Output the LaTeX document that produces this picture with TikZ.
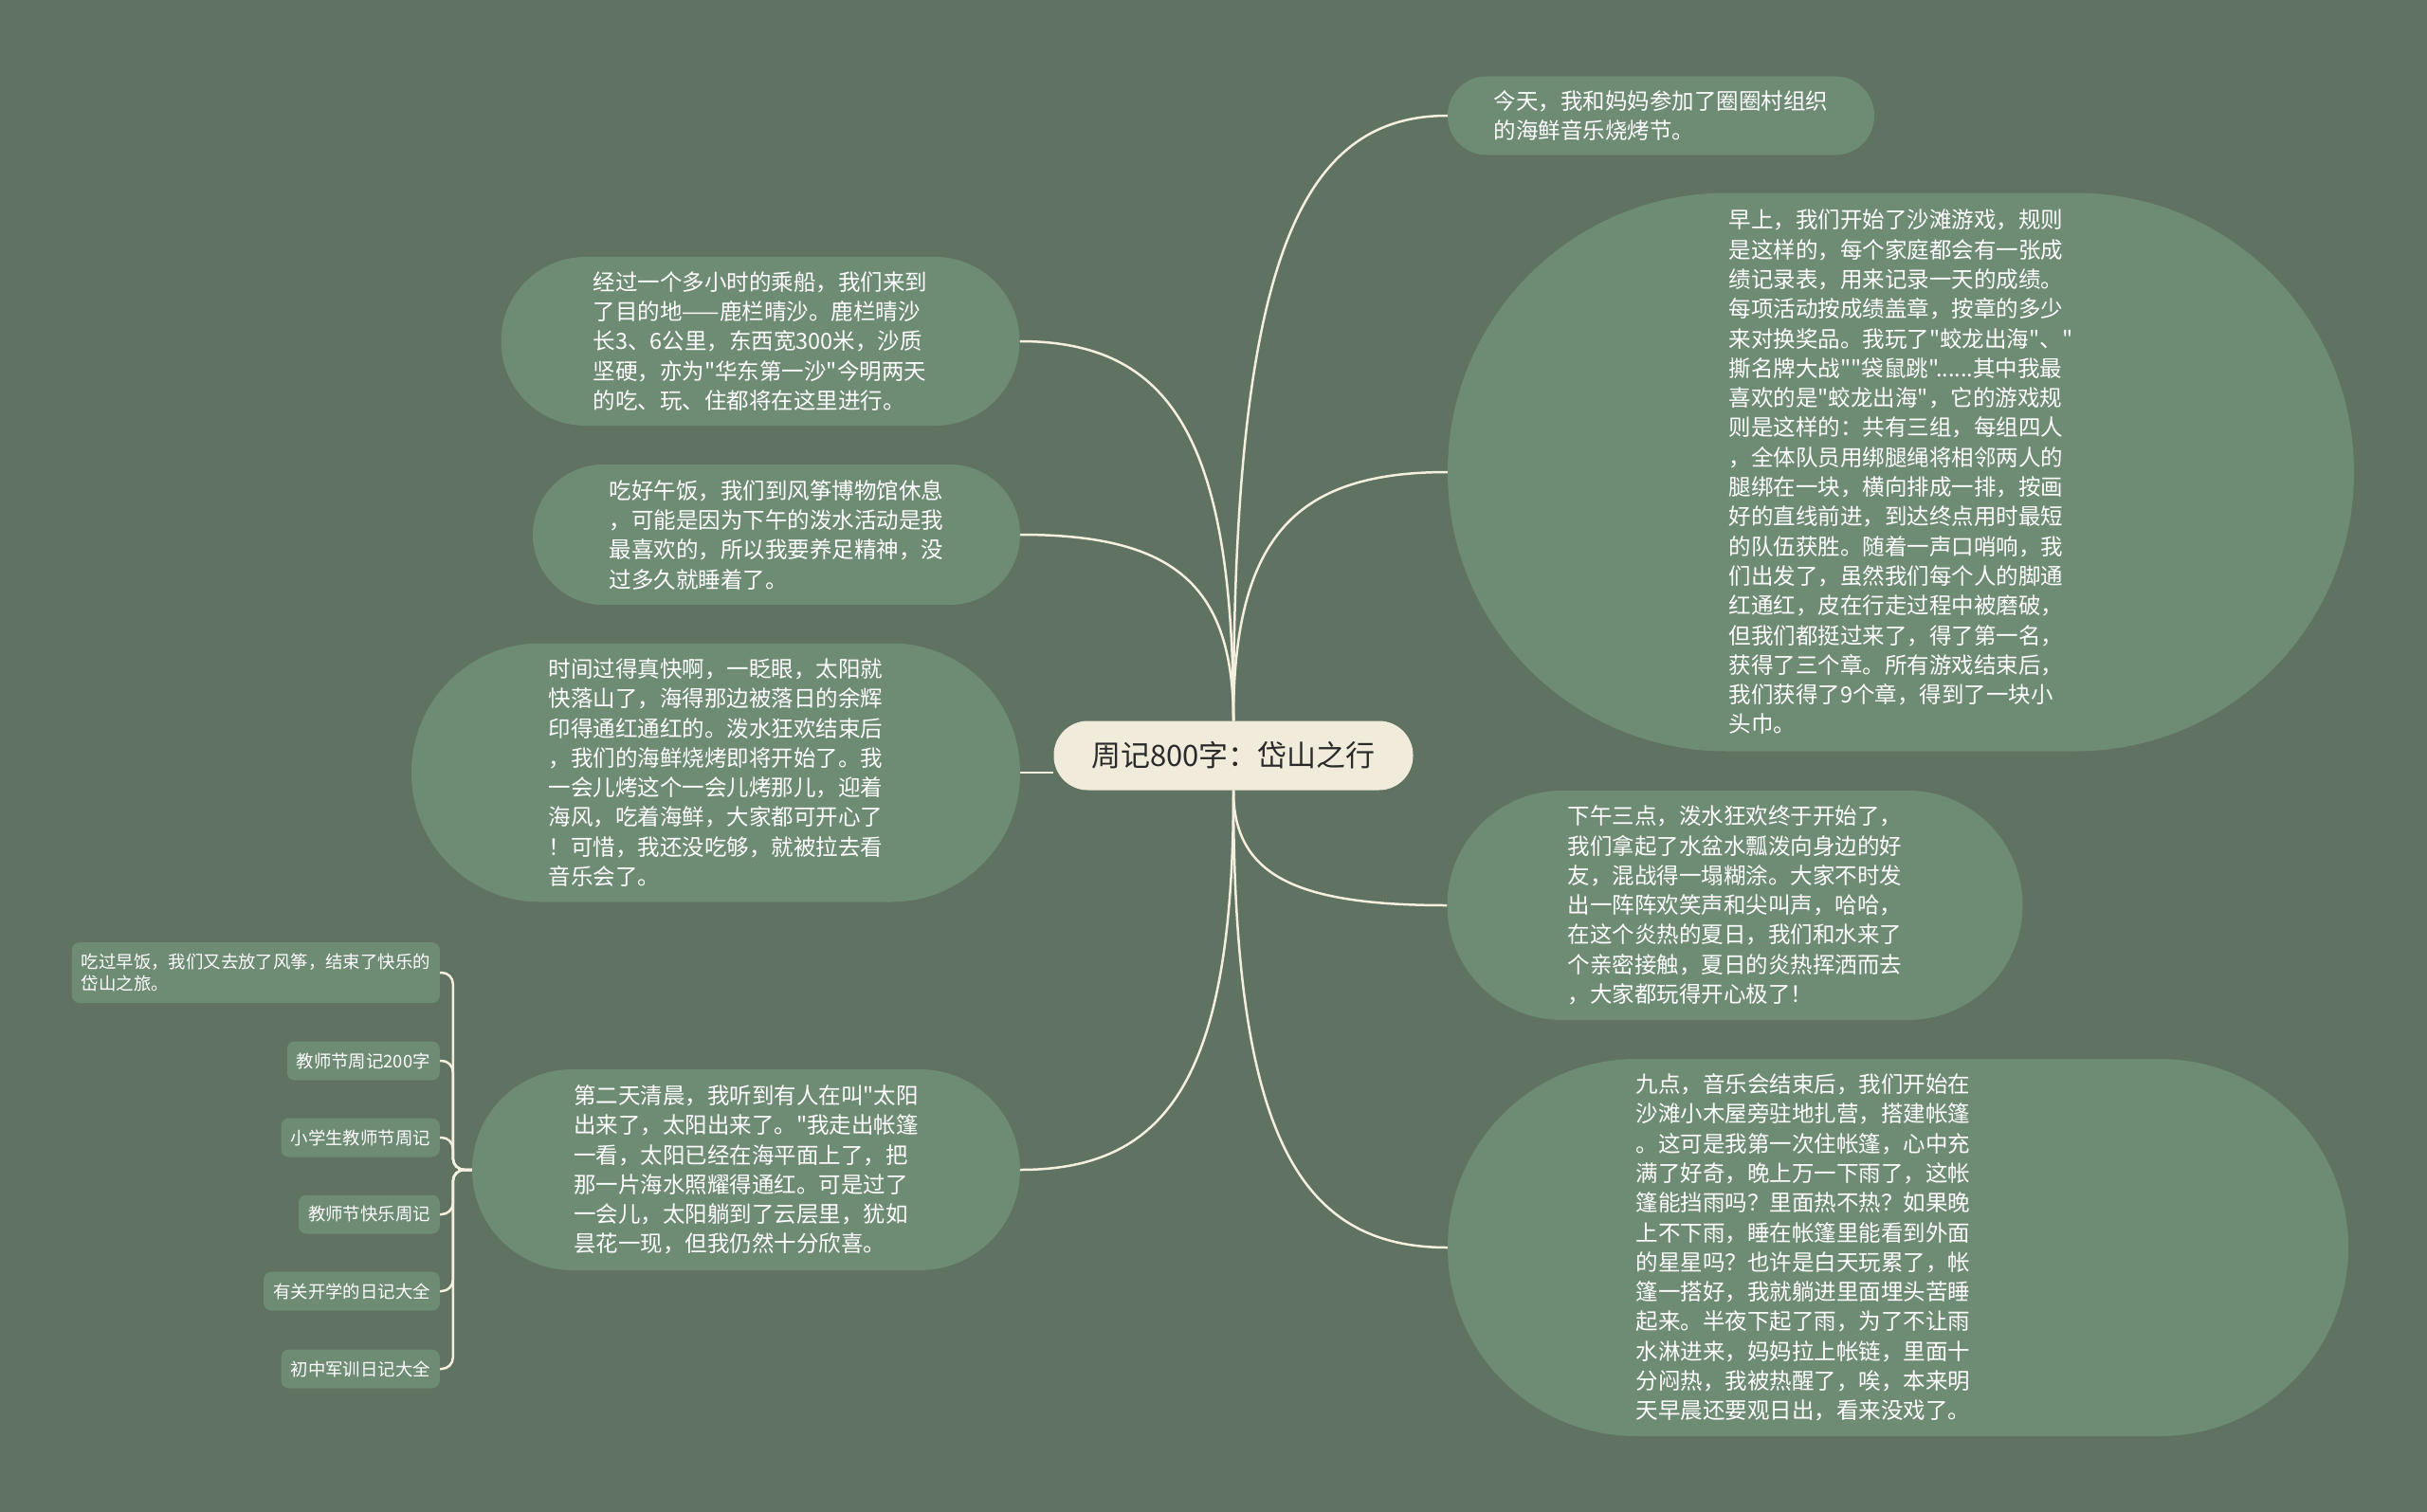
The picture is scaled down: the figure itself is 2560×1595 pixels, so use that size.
\documentclass[tikz,border=0pt]{standalone}
\usepackage{fontspec}
\newfontfamily\cjk{Noto Sans CJK SC}
\usepackage{tikz}
\usetikzlibrary{calc}
\usetikzlibrary{backgrounds}

\definecolor{bggreen}{HTML}{607262}
\definecolor{nodegreen}{HTML}{6E8B74}
\definecolor{topiccream}{HTML}{F0EBDA}
\definecolor{linkcream}{HTML}{F4EFDE}
\definecolor{topicink}{HTML}{2A2A2A}

\begin{document}
\begin{tikzpicture}[x=1pt,y=-1pt,
    txt/.style={text=white,align=left,inner sep=0pt,
      font=\cjk\fontsize{23.5}{31.3}\selectfont},
    bubble/.style={txt,fill=nodegreen},
    leaf/.style={fill=nodegreen,text=white,align=left,anchor=east,
      inner xsep=10pt,inner ysep=0pt,minimum height=41pt,rounded corners=8pt,
      font=\cjk\fontsize{18.4}{23}\selectfont},
    link/.style={draw=linkcream,line width=2.5pt},
    branch/.style={to path={.. controls ($(\tikztostart)!0.75!(\tikztostart|-\tikztotarget)$)
      and ($(\tikztotarget)!0.7!(\tikztostart|-\tikztotarget)$) .. (\tikztotarget)}}]
    \begin{scope}[on background layer]
      \path[use as bounding box,fill=bggreen] (0,0) rectangle (2560,1595);
    \end{scope}

    % centre
    \node[fill=topiccream,text=topicink,minimum width=379pt,minimum height=73pt,
      rounded corners=36pt,font=\cjk\fontsize{31}{36}\selectfont] (topic) at (1301,797)
      {周记800字：岱山之行};

    % right side
    \node[bubble,minimum width=450pt,minimum height=83pt,rounded corners=41pt] (today) at (1752,122)
      {今天，我和妈妈参加了圈圈村组织\\
       的海鲜音乐烧烤节。};
    \node[bubble,minimum width=956pt,minimum height=589pt,rounded corners=294pt] (games) at (2005,498)
      {早上，我们开始了沙滩游戏，规则\\
       是这样的，每个家庭都会有一张成\\
       绩记录表，用来记录一天的成绩。\\
       每项活动按成绩盖章，按章的多少\\
       来对换奖品。我玩了"蛟龙出海"、"\\
       撕名牌大战""袋鼠跳"......其中我最\\
       喜欢的是"蛟龙出海"，它的游戏规\\
       则是这样的：共有三组，每组四人\\
       ，全体队员用绑腿绳将相邻两人的\\
       腿绑在一块，横向排成一排，按画\\
       好的直线前进，到达终点用时最短\\
       的队伍获胜。随着一声口哨响，我\\
       们出发了，虽然我们每个人的脚通\\
       红通红，皮在行走过程中被磨破，\\
       但我们都挺过来了，得了第一名，\\
       获得了三个章。所有游戏结束后，\\
       我们获得了9个章，得到了一块小\\
       头巾。};
    \node[bubble,minimum width=607pt,minimum height=242pt,rounded corners=121pt] (splash) at (1830,955)
      {下午三点，泼水狂欢终于开始了，\\
       我们拿起了水盆水瓢泼向身边的好\\
       友，混战得一塌糊涂。大家不时发\\
       出一阵阵欢笑声和尖叫声，哈哈，\\
       在这个炎热的夏日，我们和水来了\\
       个亲密接触，夏日的炎热挥洒而去\\
       ，大家都玩得开心极了！};
    \node[bubble,minimum width=950pt,minimum height=398pt,rounded corners=199pt] (camp) at (2002,1316) {};
    \node[txt] (camptext) at (1902,1316)
      {九点，音乐会结束后，我们开始在\\
       沙滩小木屋旁驻地扎营，搭建帐篷\\
       。这可是我第一次住帐篷，心中充\\
       满了好奇，晚上万一下雨了，这帐\\
       篷能挡雨吗？里面热不热？如果晚\\
       上不下雨，睡在帐篷里能看到外面\\
       的星星吗？也许是白天玩累了，帐\\
       篷一搭好，我就躺进里面埋头苦睡\\
       起来。半夜下起了雨，为了不让雨\\
       水淋进来，妈妈拉上帐链，里面十\\
       分闷热，我被热醒了，唉，本来明\\
       天早晨还要观日出，看来没戏了。};

    % left side
    \node[bubble,minimum width=547pt,minimum height=178pt,rounded corners=89pt] (boat) at (802,360)
      {经过一个多小时的乘船，我们来到\\
       了目的地——鹿栏晴沙。鹿栏晴沙\\
       长3、6公里，东西宽300米，沙质\\
       坚硬，亦为"华东第一沙"今明两天\\
       的吃、玩、住都将在这里进行。};
    \node[bubble,minimum width=514pt,minimum height=148pt,rounded corners=74pt] (lunch) at (819,564)
      {吃好午饭，我们到风筝博物馆休息\\
       ，可能是因为下午的泼水活动是我\\
       最喜欢的，所以我要养足精神，没\\
       过多久就睡着了。};
    \node[bubble,minimum width=642pt,minimum height=273pt,rounded corners=136pt] (sunset) at (755,815)
      {时间过得真快啊，一眨眼，太阳就\\
       快落山了，海得那边被落日的余辉\\
       印得通红通红的。泼水狂欢结束后\\
       ，我们的海鲜烧烤即将开始了。我\\
       一会儿烤这个一会儿烤那儿，迎着\\
       海风，吃着海鲜，大家都可开心了\\
       ！可惜，我还没吃够，就被拉去看\\
       音乐会了。};
    \node[bubble,minimum width=578pt,minimum height=212pt,rounded corners=106pt] (sunrise) at (787,1234)
      {第二天清晨，我听到有人在叫"太阳\\
       出来了，太阳出来了。"我走出帐篷\\
       一看，太阳已经在海平面上了，把\\
       那一片海水照耀得通红。可是过了\\
       一会儿，太阳躺到了云层里，犹如\\
       昙花一现，但我仍然十分欣喜。};

    % leaves of the last one
    \node[leaf,minimum height=64pt] (kites) at (464,1026)
      {吃过早饭，我们又去放了风筝，结束了快乐的\\
       岱山之旅。};
    \node[leaf] (rel1) at (464,1119) {教师节周记200字};
    \node[leaf] (rel2) at (464,1200) {小学生教师节周记};
    \node[leaf] (rel3) at (464,1281) {教师节快乐周记};
    \node[leaf] (rel4) at (464,1362) {有关开学的日记大全};
    \node[leaf] (rel5) at (464,1444) {初中军训日记大全};

    \begin{scope}[on background layer]
      \draw[link] (topic.north) to[branch] (today.west);
      \draw[link] (topic.north) to[branch] (games.west);
      \draw[link] (topic.north) to[branch] (boat.east);
      \draw[link] (topic.north) to[branch] (lunch.east);
      \draw[link] (sunset.east) -- (sunset.east -| topic.west);
      \draw[link] (topic.south) to[branch] (splash.west);
      \draw[link] (topic.south) to[branch] (sunrise.east);
      \draw[link] (topic.south) to[branch] (camp.west);

      \draw[link,rounded corners=12pt] (sunrise.west) -- ++(-20pt,0) |- (kites.east);
      \draw[link,rounded corners=12pt] (sunrise.west) -- ++(-20pt,0) |- (rel1.east);
      \draw[link,rounded corners=12pt] (sunrise.west) -- ++(-20pt,0) |- (rel2.east);
      \draw[link,rounded corners=12pt] (sunrise.west) -- ++(-20pt,0) |- (rel3.east);
      \draw[link,rounded corners=12pt] (sunrise.west) -- ++(-20pt,0) |- (rel4.east);
      \draw[link,rounded corners=12pt] (sunrise.west) -- ++(-20pt,0) |- (rel5.east);
    \end{scope}
\end{tikzpicture}
\end{document}
